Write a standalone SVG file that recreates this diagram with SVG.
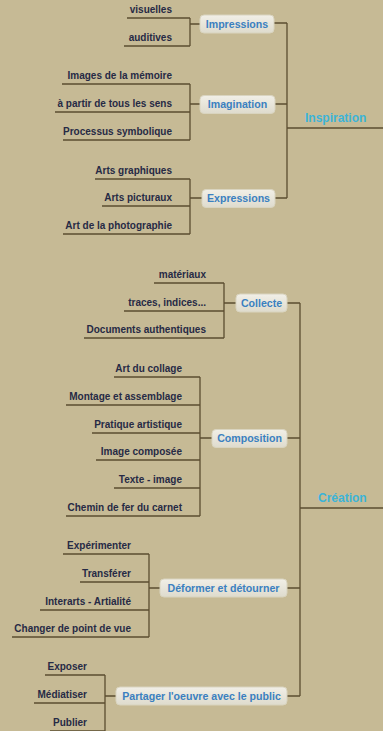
<svg xmlns="http://www.w3.org/2000/svg" width="383" height="731" viewBox="0 0 383 731">
<defs>
<linearGradient id="bx" x1="0" y1="0" x2="0" y2="1">
<stop offset="0" stop-color="#f1efe7"/>
<stop offset="1" stop-color="#dedbcd"/>
</linearGradient>
<style>
.leaf{font-family:"Liberation Sans",Arial,sans-serif;font-weight:bold;font-size:10px;fill:#262a45;text-anchor:end}
.box{fill:url(#bx);stroke:#d9d4bf;stroke-width:1}
.lbl{font-family:"Liberation Sans",Arial,sans-serif;font-weight:bold;font-size:10.6px;fill:#3a80c0;text-anchor:middle}
.root{font-family:"Liberation Sans",Arial,sans-serif;font-weight:bold;font-size:12px;fill:#3cb4d8}
.ln{fill:none;stroke:#5b4d30;stroke-width:1.3}
</style>
</defs>
<rect width="383" height="731" fill="#c6ba95"/>
<g id="connectors" class="ln">
<path class="ln" d="M127 18H190M124 46H190M190 18V46M190 24H200"/>
<path class="ln" d="M62 84H190M55 112H190M63 140H190M190 84V140M190 104H200"/>
<path class="ln" d="M95 179H190M102 206H190M63 234H190M190 179V234M190 198H202"/>
<path class="ln" d="M274 23H287M275 104H287M275 198H287M287 23V198M287 128H383"/>
<path class="ln" d="M154 283H224M124 311H224M84 338H224M224 283V338M224 303H236"/>
<path class="ln" d="M114 377H200M66 405H200M92 433H200M96 460H200M114 488H200M66 516H200M200 377V516M200 438H212"/>
<path class="ln" d="M63 554H149M80 582H149M40 610H149M12 637H149M149 554V637M149 588H160"/>
<path class="ln" d="M45 675H105M34 703H105M50 731H105M105 675V731M105 696H116"/>
<path class="ln" d="M287 303H300M287 438H300M287 588H300M287 696H300M300 303V696M300 508H383"/>
</g>
<g id="inspiration"><text class="root" x="305" y="122">Inspiration</text></g>
<g id="creation"><text class="root" x="318" y="502">Création</text></g>
<g id="impressions"><rect class="box" x="200" y="15" width="74" height="18" rx="4"/><text class="lbl" x="237" y="27.5">Impressions</text></g>
<g id="imagination"><rect class="box" x="200" y="95.5" width="75" height="18" rx="4"/><text class="lbl" x="237.5" y="108">Imagination</text></g>
<g id="expressions"><rect class="box" x="202" y="189.5" width="73" height="18" rx="4"/><text class="lbl" x="238.5" y="202">Expressions</text></g>
<g id="collecte"><rect class="box" x="236" y="294" width="51" height="18" rx="4"/><text class="lbl" x="261.5" y="306.5">Collecte</text></g>
<g id="composition"><rect class="box" x="212" y="429.5" width="75" height="18" rx="4"/><text class="lbl" x="249.5" y="442">Composition</text></g>
<g id="deformer"><rect class="box" x="160" y="579" width="127" height="18" rx="4"/><text class="lbl" x="223.5" y="591.5">Déformer et détourner</text></g>
<g id="partager"><rect class="box" x="116" y="687" width="171" height="18" rx="4"/><text class="lbl" x="201.5" y="699.5">Partager l'oeuvre avec le public</text></g>
<g id="l-visuelles"><text class="leaf" x="172" y="13">visuelles</text></g>
<g id="l-auditives"><text class="leaf" x="172" y="41">auditives</text></g>
<g id="l-images"><text class="leaf" x="172" y="79">Images de la mémoire</text></g>
<g id="l-apartir"><text class="leaf" x="172" y="107">à partir de tous les sens</text></g>
<g id="l-processus"><text class="leaf" x="172" y="135">Processus symbolique</text></g>
<g id="l-graphiques"><text class="leaf" x="172" y="174">Arts graphiques</text></g>
<g id="l-picturaux"><text class="leaf" x="172" y="201">Arts picturaux</text></g>
<g id="l-photo"><text class="leaf" x="172" y="229">Art de la photographie</text></g>
<g id="l-materiaux"><text class="leaf" x="206" y="278">matériaux</text></g>
<g id="l-traces"><text class="leaf" x="206" y="306">traces, indices...</text></g>
<g id="l-documents"><text class="leaf" x="206" y="333">Documents authentiques</text></g>
<g id="l-collage"><text class="leaf" x="182" y="372">Art du collage</text></g>
<g id="l-montage"><text class="leaf" x="182" y="400">Montage et assemblage</text></g>
<g id="l-pratique"><text class="leaf" x="182" y="428">Pratique artistique</text></g>
<g id="l-imagecomp"><text class="leaf" x="182" y="455">Image composée</text></g>
<g id="l-texte"><text class="leaf" x="182" y="483">Texte - image</text></g>
<g id="l-chemin"><text class="leaf" x="182" y="511">Chemin de fer du carnet</text></g>
<g id="l-experimenter"><text class="leaf" x="131" y="549">Expérimenter</text></g>
<g id="l-transferer"><text class="leaf" x="131" y="577">Transférer</text></g>
<g id="l-interarts"><text class="leaf" x="131" y="605">Interarts - Artialité</text></g>
<g id="l-changer"><text class="leaf" x="131" y="632">Changer de point de vue</text></g>
<g id="l-exposer"><text class="leaf" x="87" y="670">Exposer</text></g>
<g id="l-mediatiser"><text class="leaf" x="87" y="698">Médiatiser</text></g>
<g id="l-publier"><text class="leaf" x="87" y="726">Publier</text></g>
</svg>
